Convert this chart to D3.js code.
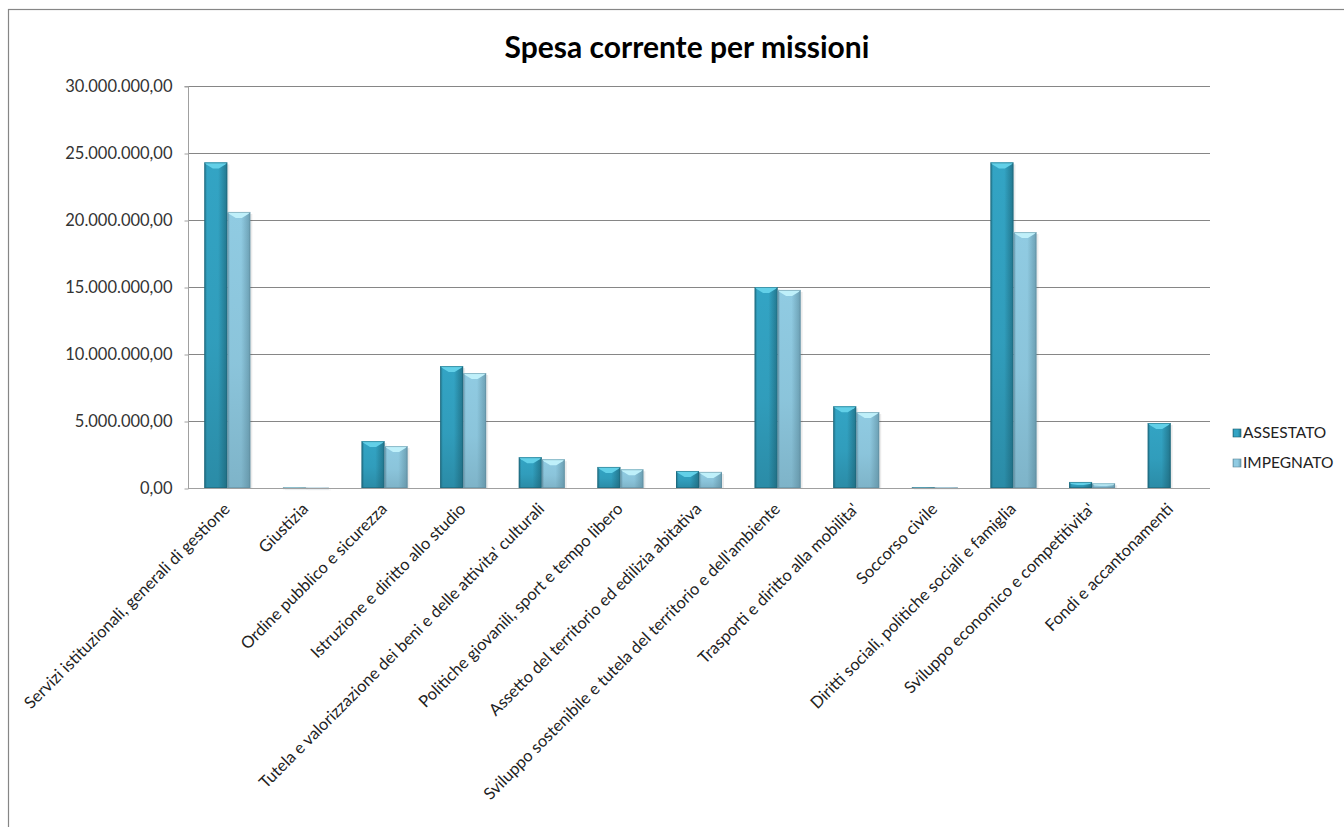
<!DOCTYPE html>
<html><head><meta charset="utf-8">
<script src="https://cdn.jsdelivr.net/npm/d3@7"></script>
<style>
html,body{margin:0;padding:0;background:#fff;overflow:hidden;}
svg{display:block;font-family:Lato, "Liberation Sans", sans-serif;}
</style></head>
<body>
<svg id="chart" width="1344" height="827"></svg>
<script>
const categories = [
  "Servizi istituzionali, generali di gestione",
  "Giustizia",
  "Ordine pubblico e sicurezza",
  "Istruzione e diritto allo studio",
  "Tutela e valorizzazione dei beni e delle attivita' culturali",
  "Politiche giovanili, sport e tempo libero",
  "Assetto del territorio ed edilizia abitativa",
  "Sviluppo sostenibile e tutela del territorio e dell'ambiente",
  "Trasporti e diritto alla mobilita'",
  "Soccorso civile",
  "Diritti sociali, politiche sociali e famiglia",
  "Sviluppo economico e competitivita'",
  "Fondi e accantonamenti"
];
const seriesNames = ["ASSESTATO", "IMPEGNATO"];
const assestato = [24300000, 30000, 3500000, 9100000, 2300000, 1570000, 1270000, 15000000, 6100000, 50000, 24300000, 450000, 4850000];
const impegnato = [20600000, 20000, 3130000, 8580000, 2150000, 1400000, 1200000, 14780000, 5670000, 40000, 19100000, 350000, 0];
const yTicks = [0, 5000000, 10000000, 15000000, 20000000, 25000000, 30000000];
const title = "Spesa corrente per missioni";

const svg = d3.select("#chart");
const plot = {left: 188, right: 1210, top: 86, bottom: 488};

// outer chart border
svg.append("rect").attr("x", 8.5).attr("y", 9.5).attr("width", 1400).attr("height", 900)
  .attr("fill", "none").attr("stroke", "#868686").attr("stroke-width", 1.2);

const defs = svg.append("defs");
const pal = [
  {edge:"#22768d", mid:"#33a4c4", bev:"#62d0e8", dark:"#1b5e70"},
  {edge:"#6b9fb3", mid:"#90cbe2", bev:"#bff0fa", dark:"#5d8899"}
];
pal.forEach((p, i) => {
  const g = defs.append("linearGradient").attr("id", "h" + i).attr("x1", 0).attr("x2", 1).attr("y1", 0).attr("y2", 0);
  g.append("stop").attr("offset", "0%").attr("stop-color", p.edge);
  g.append("stop").attr("offset", "12%").attr("stop-color", p.mid);
  g.append("stop").attr("offset", "60%").attr("stop-color", p.mid);
  g.append("stop").attr("offset", "100%").attr("stop-color", p.edge);
  const v = defs.append("linearGradient").attr("id", "v" + i).attr("x1", 0).attr("x2", 0).attr("y1", 0).attr("y2", 1);
  v.append("stop").attr("offset", "0%").attr("stop-color", p.dark).attr("stop-opacity", 0);
  v.append("stop").attr("offset", "55%").attr("stop-color", p.dark).attr("stop-opacity", 0.1);
  v.append("stop").attr("offset", "100%").attr("stop-color", p.dark).attr("stop-opacity", 0.35);
});

const y = d3.scaleLinear().domain([0, 30000000]).range([plot.bottom, plot.top]);
const x0 = d3.scaleBand().domain(categories).range([plot.left, plot.right]).paddingInner(0).paddingOuter(0);
const x1 = d3.scaleBand().domain(seriesNames).range([x0.bandwidth() * 0.2075, x0.bandwidth() * 0.7925]);

const fmt = v => {
  const s = d3.format(",.2f")(v);
  return s.replace(/,/g, "#").replace(".", ",").replace(/#/g, ".");
};

// gridlines
svg.append("g").selectAll("line").data(yTicks.filter(t => t > 0)).join("line")
  .attr("x1", plot.left).attr("x2", plot.right)
  .attr("y1", d => Math.round(y(d)) + 0.5).attr("y2", d => Math.round(y(d)) + 0.5)
  .attr("stroke", "#868686").attr("stroke-width", 1);

// y axis
const yAxis = d3.axisLeft(y).tickValues(yTicks).tickSize(4).tickPadding(12).tickFormat(fmt);
const ya = svg.append("g").attr("transform", `translate(${plot.left + 0.5},0.5)`).call(yAxis);
ya.select(".domain").attr("stroke", "#a0a0a0").attr("d", `M-4,${plot.top}H0V${plot.bottom}`);
ya.selectAll(".tick line").attr("stroke", "#a0a0a0");
ya.selectAll(".tick text").attr("font-size", 16.5).attr("fill", "#333").attr("font-family", "Lato");

// bars
const series = [assestato, impegnato];
const groups = svg.append("g").selectAll("g").data(categories).join("g")
  .attr("transform", d => `translate(${x0(d)},0)`);

groups.each(function(cat, ci) {
  const g = d3.select(this);
  seriesNames.forEach((sn, si) => {
    const v = series[si][ci];
    if (v <= 0) return;
    const bx = x1(sn), bw = x1.bandwidth();
    const by = y(v), bh = plot.bottom - by;
    g.append("rect").attr("x", bx + 2).attr("y", by + 2).attr("width", bw).attr("height", Math.max(bh - 2, 0.5))
      .attr("fill", "#000").attr("opacity", 0.08);
    g.append("rect").attr("x", bx).attr("y", by).attr("width", bw).attr("height", Math.max(bh, 1))
      .attr("fill", `url(#h${si})`);
    g.append("rect").attr("x", bx).attr("y", by).attr("width", bw).attr("height", Math.max(bh, 1))
      .attr("fill", `url(#v${si})`);
    const bev = Math.min(6, bh / 2);
    if (bh > 2) {
      const e = Math.min(2, bev);
      g.append("path")
        .attr("d", `M${bx},${by}H${bx + bw}L${bx + bw - e},${by + e}L${bx + bw / 2 + 3},${by + bev}H${bx + bw / 2 - 3}L${bx + e},${by + e}Z`)
        .attr("fill", pal[si].bev);
    }
    g.append("rect").attr("x", bx + 0.5).attr("y", by + 0.5).attr("width", bw - 1).attr("height", Math.max(bh - 1, 0.5))
      .attr("fill", "none").attr("stroke", pal[si].dark).attr("stroke-opacity", 0.5).attr("stroke-width", 1);
  });
});

// x axis baseline
svg.append("line").attr("x1", plot.left).attr("x2", plot.right)
  .attr("y1", plot.bottom + 0.5).attr("y2", plot.bottom + 0.5).attr("stroke", "#a0a0a0");

// x labels
svg.append("g").selectAll("text").data(categories).join("text")
  .attr("transform", d => `translate(${x0(d) + x0.bandwidth() / 2 + 3.5},${plot.bottom + 22}) rotate(-45)`)
  .attr("text-anchor", "end")
  .attr("font-size", 16.5).attr("fill", "#222").attr("font-family", "Lato")
  .text(d => d);

// title
svg.append("text").attr("x", 687).attr("y", 58).attr("text-anchor", "middle")
  .attr("font-size", 30).attr("font-weight", "bold").attr("fill", "#000").attr("font-family", "Lato")
  .text(title);

// legend
const lg = svg.append("g").attr("transform", "translate(1233,0)");
seriesNames.forEach((sn, i) => {
  const yy = 433 + i * 30;
  lg.append("rect").attr("x", 0).attr("y", yy - 4).attr("width", 8).attr("height", 8)
    .attr("fill", `url(#h${i})`).attr("stroke", pal[i].dark).attr("stroke-width", 0.6);
  lg.append("text").attr("x", 10).attr("y", yy).attr("dy", "0.35em")
    .attr("font-size", 15.5).attr("fill", "#222").attr("font-family", "Lato").text(sn);
});
</script>
</body></html>
